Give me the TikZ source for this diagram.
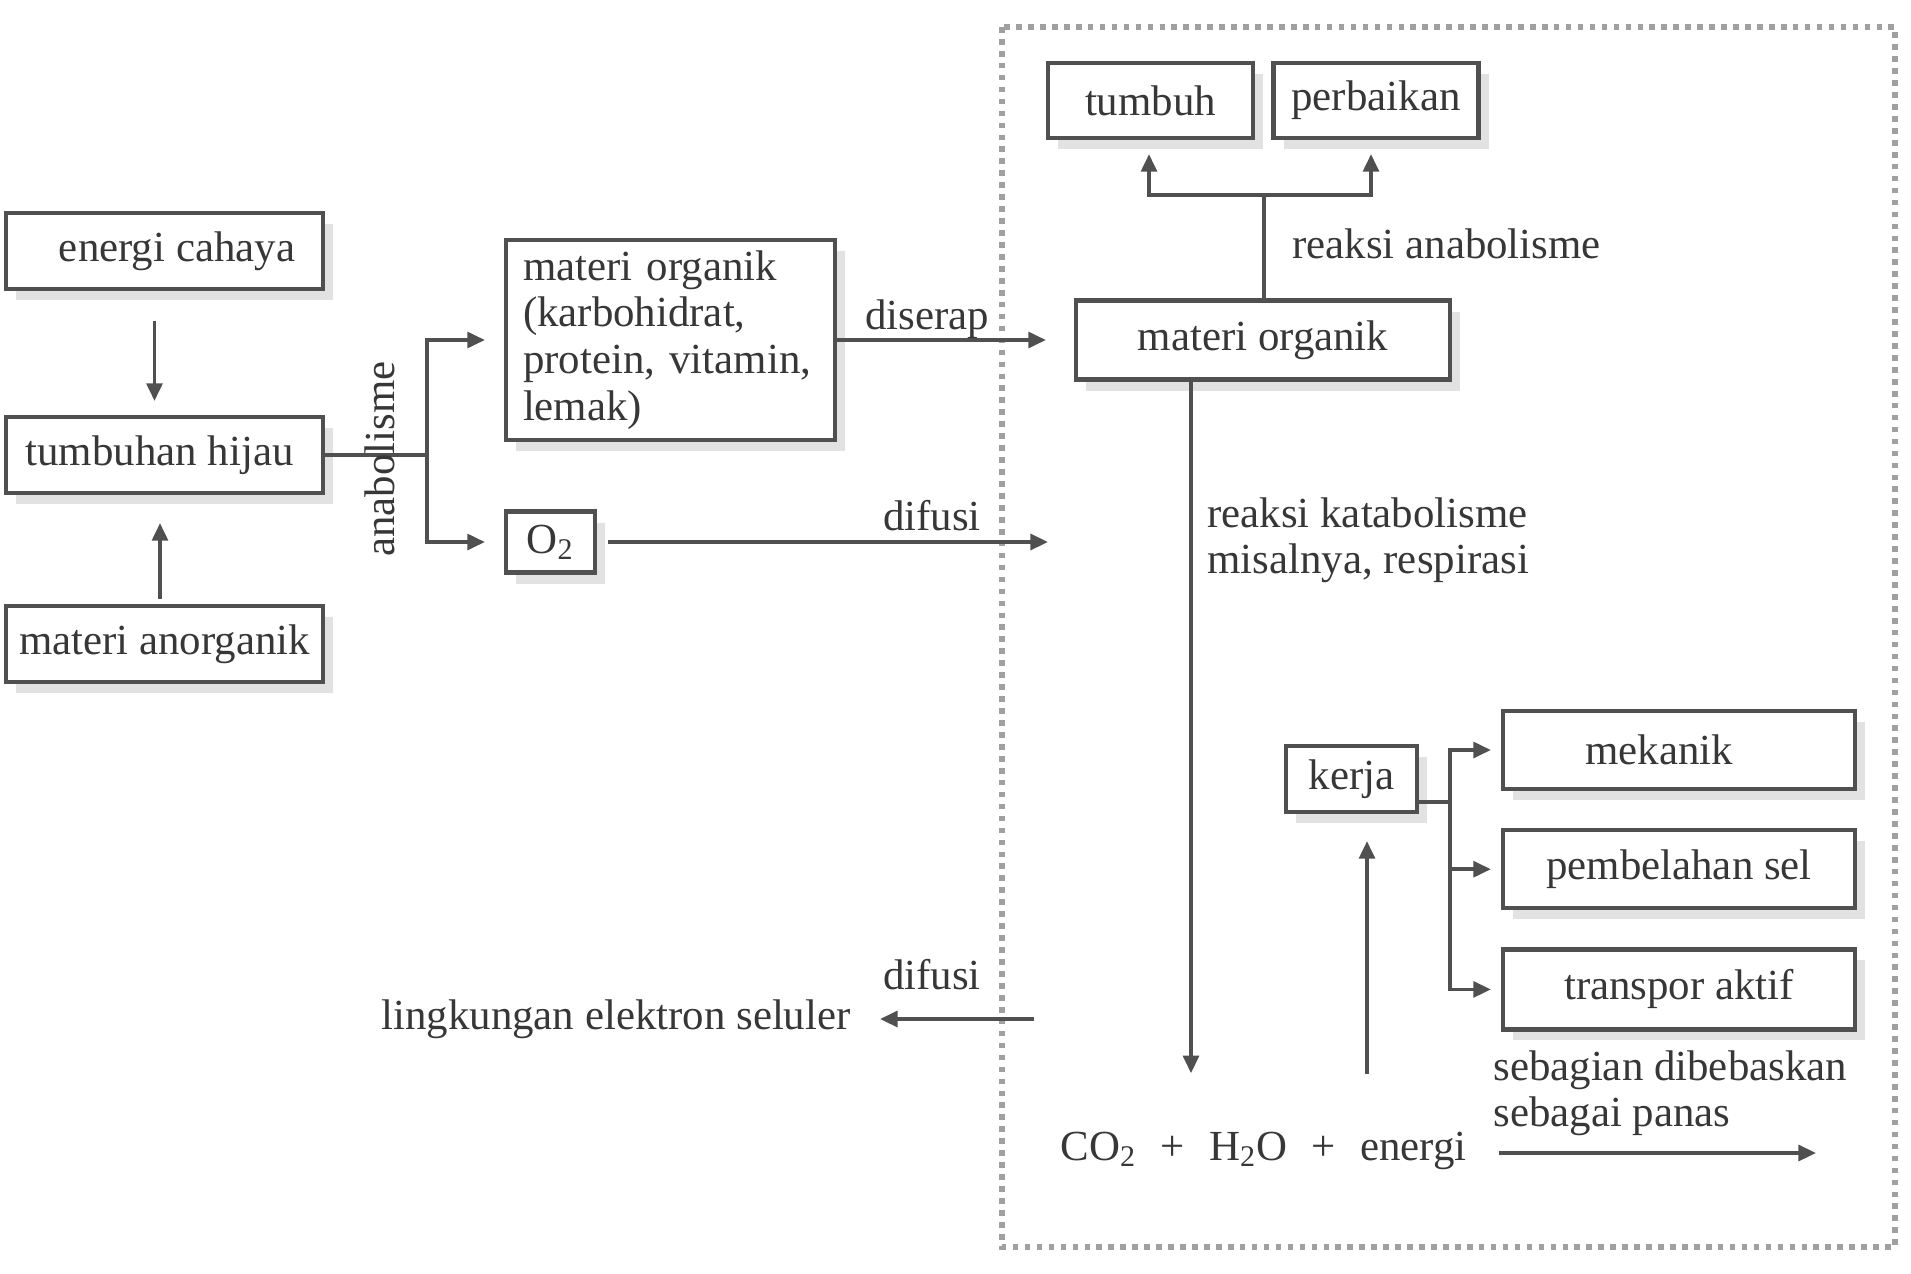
\documentclass[tikz,border=0pt]{standalone}
\usepackage{fontspec}
\setmainfont{Liberation Serif}
\usetikzlibrary{arrows.meta, positioning, shadows}
\definecolor{garisabu}{RGB}{80,80,80}
\definecolor{teksabu}{RGB}{55,55,55}
\definecolor{titikabu}{RGB}{160,160,160}
\definecolor{bayangan}{RGB}{226,226,226}
\tikzset{
  kotak/.style={draw=garisabu, line width=1.2pt, fill=white, inner sep=0pt,
    drop shadow={shadow xshift=0.1cm, shadow yshift=-0.11cm, fill=bayangan, opacity=1}},
  panah/.style={draw=garisabu, line width=1pt, -{Triangle[length=5pt,width=4.5pt]}},
  garis/.style={draw=garisabu, line width=1pt}
}

\begin{document}
\begin{tikzpicture}[font=\fontsize{12.2}{13.3}\selectfont, text=teksabu]
    \useasboundingbox (0,0) rectangle (19.11,-12.73);
    % batas sel
    \draw[titikabu, line width=1.6pt, dash pattern=on 1.6pt off 1.8pt] (10.02,-0.27) rectangle (18.95,-12.47);

    % tumbuhan hijau
    \node[kotak, minimum width=3.17cm, minimum height=0.76cm] (cahaya) at (1.645,-2.51) {\kern0.25cm energi cahaya};
    \node[kotak, minimum width=3.17cm, minimum height=0.76cm] (hijau) at (1.645,-4.55) {tumbuhan hijau\kern0.1cm};
    \node[kotak, minimum width=3.17cm, minimum height=0.76cm] (anorganik) at (1.645,-6.44) {materi anorganik};

    \draw[panah, shorten <=0.3cm, shorten >=0.14cm] ([xshift=-0.1cm]cahaya.south) -- ([xshift=-0.1cm]hijau.north);
    \draw[panah, shorten <=0.05cm, shorten >=0.28cm] ([xshift=-0.045cm]anorganik.north) -- ([xshift=-0.045cm]hijau.south);

    \node[kotak, text width=2.95cm, inner xsep=0.17cm, minimum height=2.0cm, align=left] (organik) at (6.705,-3.40)
        {materi organik\\(karbohidrat,\\protein, vitamin,\\lemak)};
    \node[kotak, minimum width=0.89cm, minimum height=0.61cm] (oksigen) at (5.505,-5.42) {O\textsubscript{2}};

    \coordinate (cabang) at (4.27,-4.55);
    \draw[garis] (hijau.east) -- (cabang);
    \draw[panah, shorten >=0.19cm] (cabang) |- (organik.west);
    \draw[panah, shorten >=0.19cm] (cabang) |- (oksigen.west);
    \node[rotate=90] (anabolisme) at (3.80,-4.59) {anabolisme};

    % di dalam sel
    \node[kotak, minimum width=3.74cm, minimum height=0.79cm] (materi) at (12.63,-3.40) {materi organik};
    \node[kotak, minimum width=2.05cm, minimum height=0.75cm] (tumbuh) at (11.505,-1.005) {tumbuh};
    \node[kotak, minimum width=2.05cm, minimum height=0.75cm] (perbaikan) at (13.76,-1.005) {perbaikan};

    \draw[panah, shorten >=0.28cm] (organik.east) -- node[above=0pt, inner sep=0pt, pos=0.38] (diserap) {diserap} (materi.west);
    \coordinate (masuk) at (10.48,-5.42);
    \draw[panah, shorten <=0.11cm] (oksigen.east) -- (masuk);
    \node (difusimasuk) at (9.32,-5.16) {difusi};

    \coordinate (simpang) at (12.64,-1.95);
    \draw[garis] (materi.north -| simpang) -- (simpang);
    \draw[panah, shorten >=0.14cm] (simpang) -| ([xshift=-0.015cm]tumbuh.south);
    \draw[panah, shorten >=0.14cm] (simpang) -| ([xshift=-0.05cm]perbaikan.south);
    \node[anchor=west] (reaksiana) at (12.80,-2.44) {reaksi anabolisme};

    \node[anchor=base] (produk) at (12.635,-11.60)
        {CO\textsubscript{2}\hspace{0.24cm}+\hspace{0.24cm}H\textsubscript{2}O\hspace{0.24cm}+\hspace{0.24cm}energi};
    \draw[panah, shorten >=0.46cm] ([xshift=-0.72cm]materi.south) -- ([xshift=-0.72cm]materi.south |- produk.north);
    \node[anchor=north west, align=left] (reaksikata) at (11.95,-4.85) {reaksi katabolisme\\misalnya, respirasi};

    \node[kotak, minimum width=1.31cm, minimum height=0.66cm] (kerja) at (13.515,-7.79) {kerja};
    \draw[panah, shorten <=0.45cm, shorten >=0.27cm] ([xshift=0.155cm]kerja.south |- produk.north) -- ([xshift=0.155cm]kerja.south);

    \node[kotak, minimum width=3.52cm, minimum height=0.78cm] (mekanik) at (16.79,-7.50) {mekanik\kern0.4cm};
    \node[kotak, minimum width=3.52cm, minimum height=0.78cm, below=0.37cm of mekanik] (pembelahan) {pembelahan sel};
    \node[kotak, minimum width=3.52cm, minimum height=0.8cm, below=0.37cm of pembelahan] (transpor) {transpor aktif};

    \coordinate (bagi) at (14.50,-8.02);
    \draw[garis] (kerja.east |- bagi) -- (bagi);
    \draw[panah, shorten >=0.1cm] (bagi) |- (mekanik.west);
    \draw[panah, shorten >=0.1cm] (bagi) |- (pembelahan.west);
    \draw[panah, shorten >=0.1cm] (bagi) |- (transpor.west);

    \node[anchor=north west, align=left] (sebagian) at (14.81,-10.38) {sebagian dibebaskan\\sebagai panas};
    \coordinate (panas) at (18.16,-11.53);
    \draw[panah, shorten <=0.2cm] (produk.east |- panas) -- (panas);

    % keluar sel
    \node[anchor=east] (lingkungan) at (8.63,-10.19) {lingkungan elektron seluler};
    \coordinate (keluar) at (10.34,-10.19);
    \draw[panah, shorten >=0.17cm] (keluar) -- (lingkungan.east);
    \node (difusikeluar) at (9.32,-9.75) {difusi};
\end{tikzpicture}
\end{document}
